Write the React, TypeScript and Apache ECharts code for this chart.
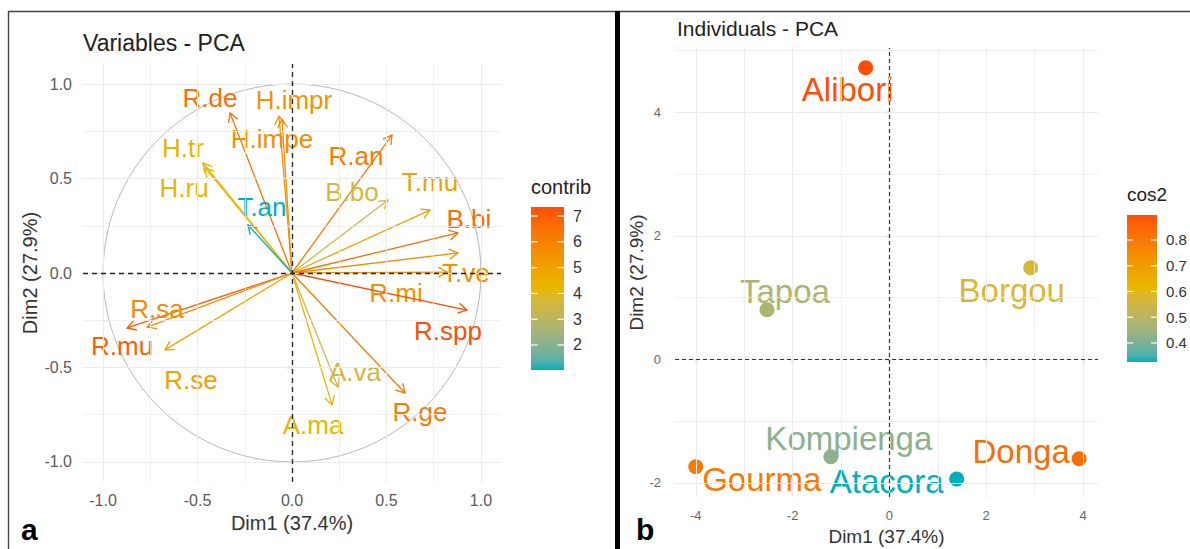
import React, { useEffect, useRef } from "react";
import * as echarts from "echarts";

// ---------- data ----------
const varNames = ["R.de", "H.impr", "H.impe", "H.tr", "H.ru", "T.an", "R.an", "B.bo", "T.mu", "B.bi", "T.ve", "R.mi", "R.spp", "R.ge", "A.va", "A.ma", "R.se", "R.mu", "R.sa"];
const varDim1 = [-0.328, -0.069, -0.053, -0.471, -0.46, -0.233, 0.529, 0.508, 0.73, 0.878, 0.878, 0.82, 0.926, 0.598, 0.243, 0.212, -0.672, -0.873, -0.767];
const varDim2 = [0.847, 0.831, 0.815, 0.582, 0.556, 0.254, 0.73, 0.386, 0.333, 0.212, 0.106, 0.005, -0.196, -0.635, -0.603, -0.698, -0.407, -0.291, -0.286];
const varContrib = [6.5, 5.5, 5.6, 4.4, 4.3, 1.03, 6.2, 3.6, 5.0, 6.6, 5.7, 5.5, 7.35, 6.2, 3.5, 4.3, 5.0, 7.0, 5.8];

const indNames = ["Alibori", "Borgou", "Tapoa", "Kompienga", "Gourma", "Atacora", "Donga"];
const indDim1 = [-0.49, 2.92, -2.53, -1.21, -4.0, 1.39, 3.92];
const indDim2 = [4.72, 1.48, 0.8, -1.58, -1.74, -1.94, -1.61];
const indCos2 = [0.897, 0.57, 0.48, 0.42, 0.8, 0.326, 0.83];

const leftTicks = [-1, -0.5, 0, 0.5, 1];
const leftMinor = [-0.75, -0.25, 0.25, 0.75];
const rightXTicks = [-4, -2, 0, 2, 4];
const rightXMinor = [-3, -1, 1, 3];
const rightYTicks = [-2, 0, 2, 4];
const rightYMinor = [-1, 1, 3, 5];
const contribLegendTicks = [2, 3, 4, 5, 6, 7];
const cos2LegendTicks = [0.4, 0.5, 0.6, 0.7, 0.8];
const circleCenter = [[0, 0]];
const circleRadius = 1;

const gradientCols = ["#00AFBB", "#E7B800", "#FC4E07"];

// ---------- label placement (styles) ----------
const varLabelOffsets = [
  [-20, -15], [15, -16], [-10, 20], [-20, -15], [-21, 20], [14, -18], [-36, 21], [-36, -8], [0, -28], [11, -14],
  [8, 20], [-51, 21], [-19, 21], [15, 19], [17, -15], [-19, 20], [26, 30], [-5, 18], [10, -18],
];
const indLabelOffsets = [[-18, 22], [-19, 23], [18, -18], [18, -18], [66, 13], [-70, 2], [-58, -7]];

const FONT = '"Liberation Sans", Arial, Helvetica, sans-serif';

// ---------- colour scale (Lab interpolation like ggplot) ----------
function hexToRgb(h: string) {
  return [parseInt(h.slice(1, 3), 16), parseInt(h.slice(3, 5), 16), parseInt(h.slice(5, 7), 16)];
}
function toLin(c: number) {
  c /= 255;
  return c <= 0.04045 ? c / 12.92 : Math.pow((c + 0.055) / 1.055, 2.4);
}
function fromLin(c: number) {
  const v = c <= 0.0031308 ? 12.92 * c : 1.055 * Math.pow(Math.max(c, 0), 1 / 2.4) - 0.055;
  return Math.round(Math.max(0, Math.min(1, v)) * 255);
}
function rgbToLab(rgb: number[]) {
  const R = toLin(rgb[0]), G = toLin(rgb[1]), B = toLin(rgb[2]);
  const X = (0.4124564 * R + 0.3575761 * G + 0.1804375 * B) / 0.95047;
  const Y = 0.2126729 * R + 0.7151522 * G + 0.072175 * B;
  const Z = (0.0193339 * R + 0.119192 * G + 0.9503041 * B) / 1.08883;
  const f = (t: number) => (t > 0.008856 ? Math.cbrt(t) : 7.787 * t + 16 / 116);
  const fx = f(X), fy = f(Y), fz = f(Z);
  return [116 * fy - 16, 500 * (fx - fy), 200 * (fy - fz)];
}
function labToHex(lab: number[]) {
  const fy = (lab[0] + 16) / 116, fx = fy + lab[1] / 500, fz = fy - lab[2] / 200;
  const finv = (t: number) => (t * t * t > 0.008856 ? t * t * t : (t - 16 / 116) / 7.787);
  const X = finv(fx) * 0.95047, Y = finv(fy), Z = finv(fz) * 1.08883;
  const R = 3.2404542 * X - 1.5371385 * Y - 0.4985314 * Z;
  const G = -0.969266 * X + 1.8760108 * Y + 0.041556 * Z;
  const B = 0.0556434 * X - 0.2040259 * Y + 1.0572252 * Z;
  const h = (n: number) => fromLin(n).toString(16).padStart(2, "0");
  return "#" + h(R) + h(G) + h(B);
}
function makeScale(cols: string[], min: number, max: number) {
  const labs = cols.map((c) => rgbToLab(hexToRgb(c)));
  return (v: number) => {
    let t = (v - min) / (max - min);
    t = Math.max(0, Math.min(1, t));
    const seg = Math.min(labs.length - 2, Math.floor(t * (labs.length - 1)));
    const lt = t * (labs.length - 1) - seg;
    const a = labs[seg], b = labs[seg + 1];
    return labToHex([a[0] + (b[0] - a[0]) * lt, a[1] + (b[1] - a[1]) * lt, a[2] + (b[2] - a[2]) * lt]);
  };
}

function colorbar(title: string, x: number, top: number, bottom: number, w: number, min: number, max: number, ticks: number[], scale: (v: number) => string, fmt: (v: number) => string, titleSize: number, labelSize: number) {
  const stops = [];
  for (let k = 0; k <= 24; k++) {
    const t = k / 24;
    stops.push({ offset: t, color: scale(max - t * (max - min)) });
  }
  const els: any[] = [
    { type: "text", left: x, top: top - 30, style: { text: title, fill: "#222", font: `${titleSize}px ${FONT}` } },
    { type: "rect", shape: { x, y: top, width: w, height: bottom - top }, style: { fill: new echarts.graphic.LinearGradient(0, 0, 0, 1, stops) } },
  ];
  ticks.forEach((v) => {
    const y = top + ((max - v) / (max - min)) * (bottom - top);
    const tl = w * 0.2;
    els.push({ type: "line", shape: { x1: x, y1: y, x2: x + tl, y2: y }, style: { stroke: "#fff", lineWidth: 1.2 } });
    els.push({ type: "line", shape: { x1: x + w - tl, y1: y, x2: x + w, y2: y }, style: { stroke: "#fff", lineWidth: 1.2 } });
    els.push({ type: "text", x: x + w + 9, y, style: { text: fmt(v), fill: "#333", font: `${labelSize}px ${FONT}`, align: "left", verticalAlign: "middle", textAlign: "left", textVerticalAlign: "middle" } });
  });
  return els;
}

function gridLines(vals: number[], axis: "xAxis" | "yAxis", width: number) {
  return vals.map((v) => ({ [axis]: v, lineStyle: { color: "#EBEBEB", width, type: "solid" } }));
}

export default function App() {
  const ref = useRef<HTMLDivElement>(null);
  useEffect(() => {
    document.body.style.margin = "0";
    const chart = echarts.init(ref.current!, null, { renderer: "svg" });

    const cMin = Math.min(...varContrib), cMax = Math.max(...varContrib);
    const qMin = Math.min(...indCos2), qMax = Math.max(...indCos2);
    const contribScale = makeScale(gradientCols, cMin, cMax);
    const cos2Scale = makeScale(gradientCols, qMin, qMax);

    const axisCommon = {
      type: "value" as const,
      axisLine: { show: false },
      splitLine: { show: false },
      nameLocation: "middle" as const,
    };

    const markBase = { silent: true, symbol: ["none", "none"], label: { show: false }, animation: false };

    const option: any = {
      animation: false,
      backgroundColor: "#fff",
      textStyle: { fontFamily: FONT },
      title: [
        { text: "Variables - PCA", left: 83, top: 31, padding: 0, textStyle: { fontSize: 23, fontWeight: "normal", color: "#222", fontFamily: FONT } },
        { text: "Individuals - PCA", left: 677, top: 18, padding: 0, textStyle: { fontSize: 21, fontWeight: "normal", color: "#222", fontFamily: FONT } },
      ],
      grid: [
        { left: 83, top: 64, width: 418, height: 418, outerBoundsMode: "none", containLabel: false },
        { left: 675, top: 48, width: 423, height: 449, outerBoundsMode: "none", containLabel: false },
      ],
      xAxis: [
        {
          ...axisCommon, gridIndex: 0, min: -1.106, max: 1.106,
          axisTick: { show: true, customValues: leftTicks, length: 5, lineStyle: { color: "#333", width: 1.2 } },
          axisLabel: { customValues: leftTicks, formatter: (v: number) => v.toFixed(1), fontSize: 16, color: "#5a5a5a", margin: 10, fontFamily: FONT },
          name: "Dim1 (37.4%)", nameGap: 31, nameTextStyle: { fontSize: 20, color: "#333", fontFamily: FONT },
        },
        {
          ...axisCommon, gridIndex: 1, min: -4.43, max: 4.31,
          axisTick: { show: true, customValues: rightXTicks, length: 4, lineStyle: { color: "#333", width: 1.2 } },
          axisLabel: { customValues: rightXTicks, formatter: (v: number) => String(v), fontSize: 13, color: "#666", margin: 12, fontFamily: FONT },
          name: "Dim1 (37.4%)", nameGap: 29, nameTextStyle: { fontSize: 19, color: "#333", fontFamily: FONT },
        },
      ],
      yAxis: [
        {
          ...axisCommon, gridIndex: 0, min: -1.106, max: 1.106,
          axisTick: { show: true, customValues: leftTicks, length: 5, lineStyle: { color: "#333", width: 1.2 } },
          axisLabel: { customValues: leftTicks, formatter: (v: number) => v.toFixed(1), fontSize: 16, color: "#5a5a5a", margin: 11, fontFamily: FONT },
          name: "Dim2 (27.9%)", nameGap: 43, nameTextStyle: { fontSize: 20, color: "#333", fontFamily: FONT },
        },
        {
          ...axisCommon, gridIndex: 1, min: -2.23, max: 5.04,
          axisTick: { show: true, customValues: rightYTicks, length: 4, lineStyle: { color: "#333", width: 1.2 } },
          axisLabel: { customValues: rightYTicks, formatter: (v: number) => String(v), fontSize: 13, color: "#666", margin: 14, fontFamily: FONT },
          name: "Dim2 (27.9%)", nameGap: 26, nameTextStyle: { fontSize: 19, color: "#333", fontFamily: FONT },
        },
      ],
      series: [
        // grid lines, left
        {
          type: "scatter", xAxisIndex: 0, yAxisIndex: 0, symbolSize: 0, data: [[0, 0]], silent: true, z: 0,
          markLine: { ...markBase, data: [...gridLines(leftTicks, "xAxis", 1.1), ...gridLines(leftMinor, "xAxis", 0.8), ...gridLines(leftTicks, "yAxis", 1.1), ...gridLines(leftMinor, "yAxis", 0.8)] },
        },
        // grid lines, right
        {
          type: "scatter", xAxisIndex: 1, yAxisIndex: 1, symbolSize: 0, data: [[0, 0]], silent: true, z: 0,
          markLine: { ...markBase, data: [...gridLines(rightXTicks, "xAxis", 1.1), ...gridLines(rightXMinor, "xAxis", 0.8), ...gridLines(rightYTicks, "yAxis", 1.1), ...gridLines(rightYMinor, "yAxis", 0.8)] },
        },
        // correlation circle
        {
          type: "custom", xAxisIndex: 0, yAxisIndex: 0, data: circleCenter, silent: true, z: 1,
          renderItem: (params: any, api: any) => {
            const c = api.coord([api.value(0), api.value(1)]);
            const r = api.size([circleRadius, circleRadius])[0];
            return { type: "circle", shape: { cx: c[0], cy: c[1], r }, style: { fill: "none", stroke: "#B8B8B8", lineWidth: 1 } };
          },
        },
        // dashed zero lines
        {
          type: "scatter", xAxisIndex: 0, yAxisIndex: 0, symbolSize: 0, data: [[0, 0]], silent: true, z: 5,
          markLine: { ...markBase, data: [{ xAxis: 0 }, { yAxis: 0 }], lineStyle: { color: "#222", width: 1.3, type: [5, 4] } },
        },
        {
          type: "scatter", xAxisIndex: 1, yAxisIndex: 1, symbolSize: 0, data: [[0, 0]], silent: true, z: 1,
          markLine: { ...markBase, data: [{ xAxis: 0 }, { yAxis: 0 }], lineStyle: { color: "#333", width: 1.2, type: [4, 3] } },
        },
        // variable arrows + labels
        {
          type: "custom", name: "contrib", xAxisIndex: 0, yAxisIndex: 0, z: 3,
          data: varNames.map((n, i) => ({ name: n, value: [varDim1[i], varDim2[i], varContrib[i]] })),
          renderItem: (params: any, api: any) => {
            const i = params.dataIndex;
            const o = api.coord([0, 0]);
            const e = api.coord([api.value(0), api.value(1)]);
            const col = contribScale(api.value(2));
            const ang = Math.atan2(e[1] - o[1], e[0] - o[0]);
            const L = 10, A = Math.PI / 6;
            const p1 = [e[0] - L * Math.cos(ang - A), e[1] - L * Math.sin(ang - A)];
            const p2 = [e[0] - L * Math.cos(ang + A), e[1] - L * Math.sin(ang + A)];
            const off = varLabelOffsets[i];
            return {
              type: "group",
              children: [
                { type: "line", shape: { x1: o[0], y1: o[1], x2: e[0], y2: e[1] }, style: { stroke: col, lineWidth: 1.3 } },
                { type: "polyline", shape: { points: [p1, e, p2] }, style: { stroke: col, fill: "none", lineWidth: 1.3 } },
                {
                  type: "text", x: e[0] + off[0], y: e[1] + off[1],
                  style: { text: varNames[i], fill: col, font: `26px ${FONT}`, align: "center", verticalAlign: "middle", textAlign: "center", textVerticalAlign: "middle" },
                },
              ],
            };
          },
        },
        // individuals
        {
          type: "scatter", name: "cos2", xAxisIndex: 1, yAxisIndex: 1, symbol: "circle", symbolSize: 15, z: 3,
          itemStyle: { opacity: 1 },
          data: indNames.map((n, i) => {
            const col = cos2Scale(indCos2[i]);
            return {
              name: n, value: [indDim1[i], indDim2[i], indCos2[i]],
              itemStyle: { color: col, opacity: 1 },
              label: {
                show: true, formatter: n, position: "inside", offset: indLabelOffsets[i], color: col, opacity: 1,
                fontSize: 33, fontFamily: FONT, align: "center", verticalAlign: "middle", textBorderWidth: 0,
              },
            };
          }),
        },
      ],
      graphic: [
        { type: "line", shape: { x1: 8, y1: 11.5, x2: 1190, y2: 11.5 }, style: { stroke: "#444", lineWidth: 1.4 } },
        { type: "line", shape: { x1: 8.5, y1: 11, x2: 8.5, y2: 549 }, style: { stroke: "#444", lineWidth: 1.4 } },
        { type: "rect", shape: { x: 615, y: 11, width: 5, height: 538 }, style: { fill: "#000" } },
        { type: "text", left: 21, top: 514, style: { text: "a", fill: "#000", font: `bold 30px ${FONT}` } },
        { type: "text", left: 636, top: 514, style: { text: "b", fill: "#000", font: `bold 30px ${FONT}` } },
        ...colorbar("contrib", 531, 207, 370, 33, cMin, cMax, contribLegendTicks, contribScale, (v) => String(v), 20, 16),
        ...colorbar("cos2", 1127, 215, 362, 30, qMin, qMax, cos2LegendTicks, cos2Scale, (v) => v.toFixed(1), 19, 15),
      ],
    };

    chart.setOption(option);
    return () => chart.dispose();
  }, []);

  return <div ref={ref} style={{ position: "fixed", left: 0, top: 0, width: 1190, height: 549, background: "#fff" }} />;
}
